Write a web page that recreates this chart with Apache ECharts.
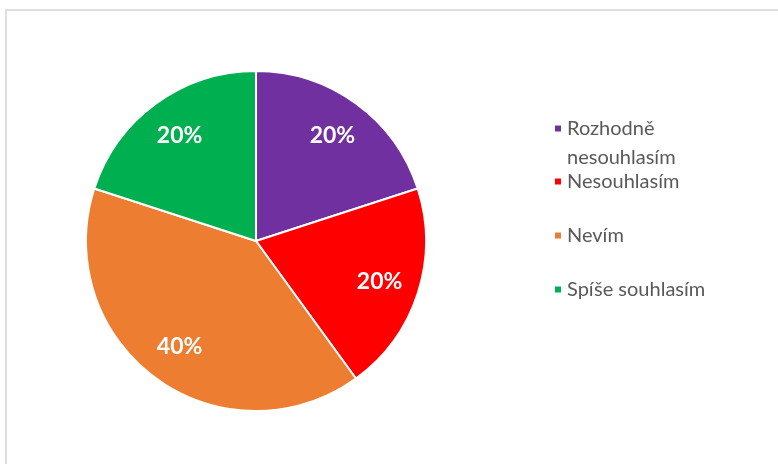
<!DOCTYPE html>
<html>
<head>
<meta charset="utf-8">
<script src="https://cdn.jsdelivr.net/npm/echarts@6/dist/echarts.min.js"></script>
<style>
	html, body { margin: 0; padding: 0; background: #fff; }
	#chart { width: 778px; height: 464px; }
</style>
</head>
<body>
<div id="chart"></div>
<script>
	// data
	const categories = ['Rozhodně nesouhlasím', 'Nesouhlasím', 'Nevím', 'Spíše souhlasím'];
	const values = [20, 20, 40, 20];
	const colors = ['#7030A0', '#FF0000', '#ED7D31', '#00B050'];

	let myChart = echarts.init(document.getElementById('chart'));

	let pieData = categories.map((c, i) => ({ name: c, value: values[i], itemStyle: { color: colors[i] } }));
	let labelData = categories.map((c, i) => ({ name: c, value: values[i] }));

	let legendText = {
		fontFamily: 'Lato, sans-serif',
		fontSize: 20,
		color: '#595959',
		lineHeight: 29
	};

	let option = {
		animation: false,
		color: colors,
		graphic: [{
			type: 'rect',
			shape: { x: 6, y: 10, width: 820, height: 500 },
			style: { fill: 'none', stroke: '#d4d4d4', lineWidth: 1.5 },
			silent: true
		}],
		legend: [{
			// first entry wraps onto two lines, the marker stays on the first one
			orient: 'vertical',
			left: 548,
			top: 80,
			icon: 'rect',
			itemWidth: 8,
			itemHeight: 8,
			itemGap: 0,
			data: [categories[0]],
			formatter: function (name) {
				return '\n' + name.replace(' ', '\n');
			},
			textStyle: legendText,
			selectedMode: false
		}, {
			orient: 'vertical',
			left: 548,
			top: 162,
			icon: 'rect',
			itemWidth: 8,
			itemHeight: 8,
			itemGap: 25,
			data: categories.slice(1),
			textStyle: legendText,
			selectedMode: false
		}],
		series: [{
			type: 'pie',
			center: [256, 241],
			radius: 170,
			startAngle: 90,
			clockwise: true,
			data: pieData,
			label: { show: false },
			labelLine: { show: false },
			itemStyle: { borderColor: '#fff', borderWidth: 2 },
			silent: true
		}, {
			// transparent ring only used to place the percentage labels
			type: 'pie',
			center: [256, 241],
			radius: 254,
			startAngle: 90,
			clockwise: true,
			data: labelData,
			itemStyle: { color: 'rgba(0,0,0,0)' },
			label: {
				show: true,
				position: 'inside',
				formatter: '{c}%',
				color: '#fff',
				fontFamily: 'Lato, sans-serif',
				fontWeight: 'bold',
				fontSize: 23
			},
			labelLine: { show: false },
			silent: true,
			z: 3
		}]
	};

	myChart.setOption(option);
</script>
</body>
</html>
